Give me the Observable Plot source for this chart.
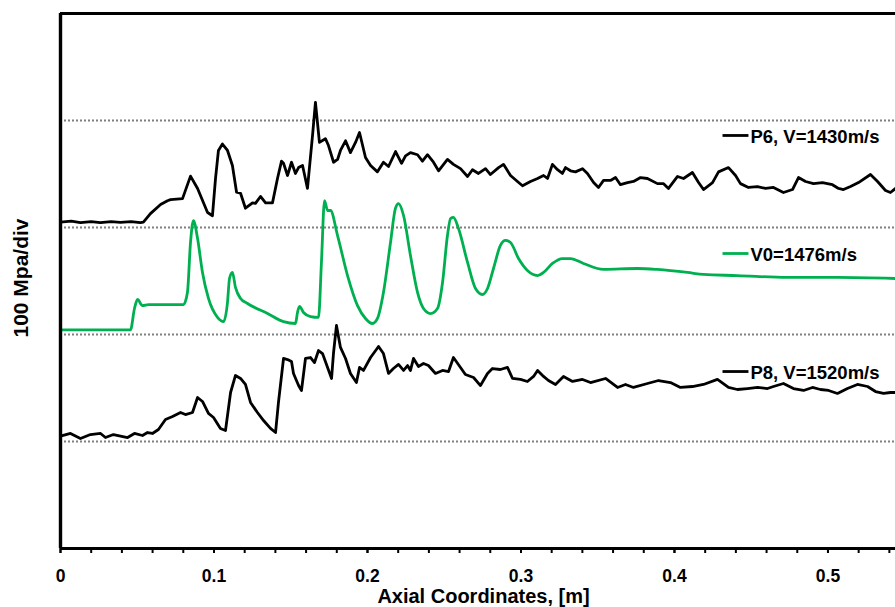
<!DOCTYPE html>
<html><head><meta charset="utf-8">
<script src="https://cdn.jsdelivr.net/npm/d3@7"></script>
<script src="https://cdn.jsdelivr.net/npm/@observablehq/plot@0.6"></script>
<style>
body{margin:0;background:#fff}
#chart{font-family:"Liberation Sans",Arial,Helvetica,sans-serif}
</style>
</head><body><div id="chart"></div>
<script>
// Axial coordinate [m], stress trace [MPa, offset by 100 MPa per division]
const p6 = [[0,305],[0.007,306],[0.013,304.5],[0.02,305.5],[0.026,304.5],[0.033,305.5],[0.039,304.8],[0.046,305.5],[0.052,304.5],[0.054,305],
[0.0586,313],[0.0652,321.5],[0.0697,325],[0.0717,326],[0.0795,327],[0.0847,348],[0.0893,336.5],[0.0958,314],[0.099,311],[0.101,346],[0.1029,372],[0.1055,378],[0.1088,372],[0.112,358],[0.1147,333],[0.1173,332],[0.1205,318],[0.1251,323],[0.127,322.5],[0.1303,329],[0.1336,323],[0.1381,323],[0.1414,346],[0.144,362],[0.1453,360],[0.1479,348.6],[0.1505,361],[0.1531,350.5],[0.1551,356],[0.1577,358],[0.1609,336.5],[0.1642,386],[0.1661,417],[0.1687,379.5],[0.1726,383],[0.1746,376.6],[0.1779,361],[0.1805,363.6],[0.1824,372],[0.1857,381],[0.1889,370],[0.1922,379.5],[0.1948,388.8],[0.1987,365.4],[0.202,358],[0.2065,352],[0.2104,361],[0.2137,357],[0.2183,371],[0.2222,360],[0.2248,367],[0.228,370],[0.2326,368],[0.2358,362],[0.2391,368],[0.243,361],[0.2463,353],[0.2521,363.6],[0.256,359],[0.2606,355],[0.2652,347.7],[0.2684,354],[0.2723,350.5],[0.2769,355],[0.2801,349.5],[0.2854,356],[0.2886,359],[0.2932,348.6],[0.2977,343],[0.301,339],[0.3062,343],[0.3108,345.8],[0.3147,348.6],[0.3173,345.8],[0.3205,359],[0.3238,354],[0.327,350.5],[0.329,356],[0.3323,353],[0.3355,352],[0.3401,355],[0.3433,350.5],[0.3473,342],[0.3505,337.4],[0.3538,344],[0.3583,344],[0.3616,346.7],[0.3648,340],[0.3694,342],[0.3733,343],[0.3779,346.7],[0.3824,345.8],[0.3889,341],[0.3929,341],[0.3961,336.5],[0.402,347.7],[0.4059,345.8],[0.4117,351.4],[0.4157,342],[0.4189,335.5],[0.4248,342],[0.4287,352],[0.4352,356],[0.4398,348.6],[0.443,341],[0.4482,337.4],[0.4541,338.3],[0.4593,336.5],[0.4645,337.4],[0.471,332.7],[0.4769,335.5],[0.4808,346.7],[0.4854,343],[0.4906,341],[0.4964,342],[0.5029,340],[0.5069,336.5],[0.5101,335.5],[0.5147,338.3],[0.5199,342],[0.5277,349.5],[0.5323,343],[0.5375,334.6],[0.5407,332.7],[0.544,336.5]];

const v0 = [[0,204.4],[0.0456,204.4],[0.0482,224.3],[0.0502,232.7],[0.0534,227],[0.0573,228],[0.0801,228],[0.0827,239.3],[0.0847,286],[0.0866,306.5],[0.0893,289.7],[0.0925,258],[0.0964,233.7],[0.1023,216],[0.1062,212],[0.1088,230],[0.1101,252.3],[0.112,258],[0.114,244],[0.1173,233.7],[0.1218,229],[0.1349,219.6],[0.1453,212],[0.1531,210.3],[0.1544,220.6],[0.1557,226.2],[0.1583,220.6],[0.1629,216.8],[0.1681,216],[0.17,267.3],[0.172,325.2],[0.174,315.9],[0.1759,315.9],[0.1805,292.5],[0.187,255.1],[0.1935,227],[0.1987,215],[0.2033,210.3],[0.2065,215],[0.2104,239.3],[0.215,286],[0.2182,317.8],[0.2202,322.4],[0.2235,311.2],[0.228,273.8],[0.2326,239.3],[0.2365,224.3],[0.2411,219.6],[0.2456,224.3],[0.2489,248.6],[0.2521,292.5],[0.2541,308.4],[0.256,309.4],[0.2593,299],[0.2652,267.3],[0.2704,243],[0.2749,237.4],[0.2782,243],[0.2821,261.7],[0.2866,283.2],[0.2899,287.9],[0.2932,286],[0.2984,271],[0.3042,259.8],[0.3108,255.1],[0.3147,258],[0.3205,266.4],[0.327,271],[0.3323,271],[0.3407,266.4],[0.3538,260.8],[0.3759,261.7],[0.3889,260.8],[0.4085,258],[0.4189,256.1],[0.441,255.1],[0.4736,253.3],[0.5062,253.3],[0.544,252.3]];

const p8 = [[0,105],[0.0065,107.5],[0.013,102.8],[0.0195,106.5],[0.0261,107.5],[0.0293,103.7],[0.0345,106.5],[0.0437,103.7],[0.0482,107.5],[0.0534,105.6],[0.0567,108.4],[0.0599,107.5],[0.0638,111.2],[0.0684,120.6],[0.073,123.4],[0.0782,127.1],[0.0814,125.2],[0.086,127.1],[0.0893,141.1],[0.0925,137.4],[0.0964,126.2],[0.0997,122.4],[0.1042,112.2],[0.1075,110.3],[0.1108,145.8],[0.114,161.7],[0.1173,158.9],[0.1205,153.3],[0.1238,136.5],[0.1283,127.1],[0.1323,119.6],[0.1368,112.2],[0.1401,108.4],[0.142,136.5],[0.1453,177.6],[0.1479,176.6],[0.1505,174.8],[0.1518,163.6],[0.1551,152.3],[0.157,147.7],[0.1596,177.6],[0.1629,178.5],[0.1655,173.8],[0.1681,185],[0.1707,182.2],[0.174,169.2],[0.1766,158.9],[0.1779,183.2],[0.1798,208.4],[0.1824,187.9],[0.1857,177.6],[0.1889,163.6],[0.1928,155.1],[0.1948,169.2],[0.1974,166.4],[0.202,178.5],[0.2072,188.8],[0.2104,182.2],[0.2137,163.6],[0.2169,168.2],[0.2202,172],[0.2235,166.4],[0.2261,171],[0.228,166.4],[0.23,177.6],[0.2332,170.1],[0.2365,172.9],[0.2397,171],[0.2443,163.6],[0.2489,166.4],[0.2528,165.4],[0.256,178.5],[0.2606,169.2],[0.2638,162.6],[0.2691,159.8],[0.2736,152.3],[0.2782,163.6],[0.2814,168.2],[0.2866,167.3],[0.2912,169.2],[0.2945,158.9],[0.2997,158],[0.3042,156.1],[0.3082,160.8],[0.3108,166.4],[0.3147,160.8],[0.3179,157],[0.3225,153.3],[0.3277,160.8],[0.3336,156.1],[0.3401,158],[0.3453,155.1],[0.3551,158.9],[0.3629,150.5],[0.3681,153.3],[0.3733,150.5],[0.3824,154.2],[0.3896,157],[0.3974,155.1],[0.4039,150.5],[0.4117,151.4],[0.4189,153.3],[0.428,158],[0.4352,150.5],[0.441,148.6],[0.4476,149.5],[0.4541,150.5],[0.4606,149.5],[0.4645,151.4],[0.471,154.2],[0.4775,149.5],[0.4841,147.7],[0.4899,150.5],[0.4951,148.6],[0.5004,147.7],[0.5062,144.9],[0.5127,149.5],[0.5192,153.3],[0.5258,151.4],[0.531,146.7],[0.5362,144.9],[0.5407,145.8],[0.544,145.8]];

const legendLabels = ["P6, V=1430m/s", "V0=1476m/s", "P8, V=1520m/s"];
const legendLevels = [386, 275.7, 165.4];   // MPa level at which each legend entry sits
const legendSpan = [0.4313, 0.4482];        // legend line sample extent [m]
const xTicks = [0, 0.1, 0.2, 0.3, 0.4, 0.5];
const xMinorTicks = d3.range(0, 0.545, 0.02);
const gridLevels = [100, 200, 300, 400];

const GREEN = "#00b050";
const legend = legendLabels.map((label, i) => ({label, y: legendLevels[i], color: i === 1 ? GREEN : "#000"}));
const toRows = (arr) => arr.map(([x, y]) => ({x, y}));

const chart = Plot.plot({
  width: 895, height: 607,
  marginLeft: 60, marginRight: 0, marginTop: 13, marginBottom: 59,
  x: {domain: [0, 0.544]},
  y: {domain: [0, 500]},
  style: {fontFamily: '"Liberation Sans", Arial, Helvetica, sans-serif', fontWeight: "bold", color: "#000", background: "#fff", overflow: "visible"},
  marks: [
    Plot.ruleY(gridLevels, {stroke: "#7f7f7f", strokeWidth: 2.2, strokeDasharray: "2,2"}),
    Plot.line(toRows(p6), {x: "x", y: "y", stroke: "#000", strokeWidth: 2.8, strokeLinejoin: "round"}),
    Plot.line(toRows(v0), {x: "x", y: "y", stroke: GREEN, strokeWidth: 2.8, curve: "monotone-x", strokeLinejoin: "round"}),
    Plot.line(toRows(p8), {x: "x", y: "y", stroke: "#000", strokeWidth: 2.8, strokeLinejoin: "round"}),
    Plot.link(legend, {x1: () => legendSpan[0], x2: () => legendSpan[1], y1: "y", y2: "y", stroke: "color", strokeWidth: 2.8}),
    Plot.text(legend, {x: () => legendSpan[1], y: "y", text: "label", textAnchor: "start", dx: 2, dy: 2, fontSize: 18.5, fontWeight: "bold", fill: "#000"}),
    Plot.axisX({ticks: xMinorTicks, tickSize: 5, strokeWidth: 2, text: null, label: null}),
    Plot.axisX({ticks: xTicks, tickSize: 5, tickPadding: 16, strokeWidth: 2, tickFormat: d3.format("~g"), fontSize: 17.5, fontWeight: "bold", label: null}),
    Plot.axisY({ticks: [], label: null}),
    Plot.ruleY([0], {stroke: "#000", strokeWidth: 3}),
    Plot.ruleY([500], {stroke: "#000", strokeWidth: 3}),
    Plot.ruleX([0], {stroke: "#000", strokeWidth: 3.4}),
    Plot.text(["Axial Coordinates, [m]"], {frameAnchor: "bottom", dy: 48, dx: 5.5, fontSize: 20, fontWeight: "bold", lineAnchor: "middle"}),
    Plot.text(["100 Mpa/div"], {frameAnchor: "left", dx: -39, dy: -3, rotate: -90, textAnchor: "middle", fontSize: 21, fontWeight: "bold"})
  ]
});
document.getElementById("chart").appendChild(chart);
</script>
</body></html>
